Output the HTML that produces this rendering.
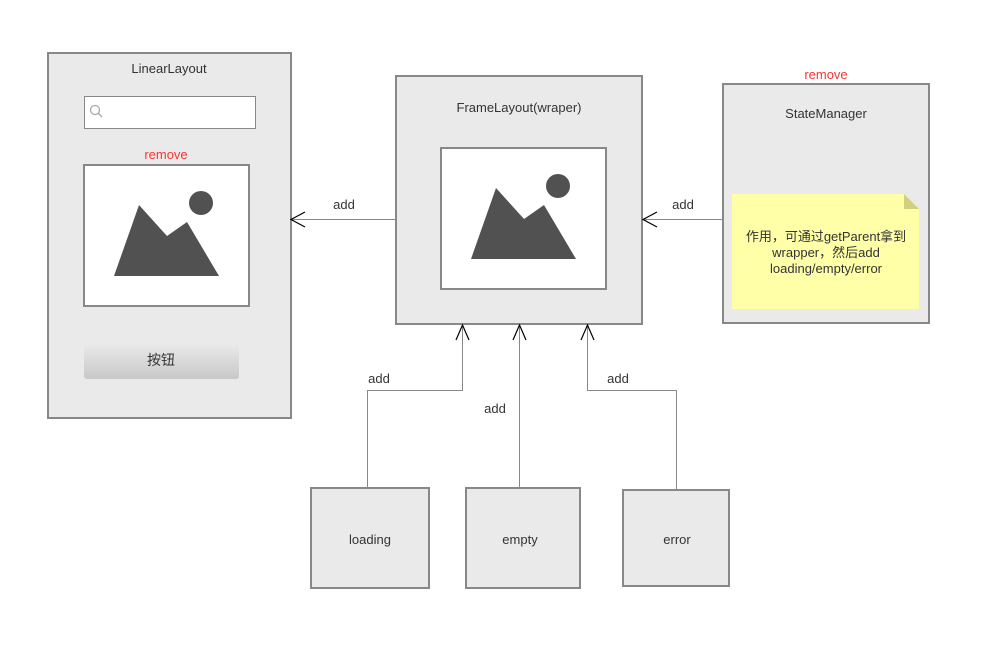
<!DOCTYPE html>
<html><head><meta charset="utf-8"><style>body{margin:0;background:#fff}svg{display:block}text{font-family:"Liberation Sans","Noto Sans CJK SC",sans-serif;font-size:13px;fill:#333}</style></head><body>
<svg width="991" height="651" viewBox="0 0 991 651">
<defs><linearGradient id="g" x1="0" y1="0" x2="0" y2="1"><stop offset="0" stop-color="#ececec"/><stop offset="1" stop-color="#c8c8c8"/></linearGradient></defs>
<g stroke="#888" stroke-width="2" fill="#eaeaea">
<rect x="48" y="53" width="243" height="365"/>
<rect x="396" y="76" width="246" height="248"/>
<rect x="723" y="84" width="206" height="239"/>
<rect x="311" y="488" width="118" height="100"/>
<rect x="466" y="488" width="114" height="100"/>
<rect x="623" y="490" width="106" height="96"/>
</g>
<rect x="84.5" y="96.5" width="171" height="32" fill="#fff" stroke="#888"/>
<circle cx="95" cy="110" r="4.5" fill="none" stroke="#aaa" stroke-width="1.3"/><line x1="98" y1="113" x2="102" y2="117" stroke="#aaa" stroke-width="1.5"/>
<rect x="84" y="165" width="165" height="141" fill="#fff" stroke="#888" stroke-width="2"/>
<polygon points="114,276 139,205 167,236 187,222 219,276" fill="#515151"/><circle cx="201" cy="203" r="12" fill="#515151"/>
<rect x="84" y="341" width="155" height="38" rx="3" fill="url(#g)"/>
<rect x="441" y="148" width="165" height="141" fill="#fff" stroke="#888" stroke-width="2"/>
<polygon points="471,259 496,188 524,219 544,205 576,259" fill="#515151"/><circle cx="558" cy="186" r="12" fill="#515151"/>
<polygon points="732,194 904,194 919,209 919,309 732,309" fill="#ffffa8"/>
<polygon points="904,194 919,209 904,209" fill="#d2cf80"/>
<g stroke="#888" fill="none">
<line x1="396" y1="219.5" x2="291" y2="219.5"/>
<line x1="723" y1="219.5" x2="643" y2="219.5"/>
<polyline points="367.5,488 367.5,390.5 462.5,390.5 462.5,325"/>
<line x1="519.5" y1="487" x2="519.5" y2="325"/>
<polyline points="676.5,489 676.5,390.5 587.5,390.5 587.5,325"/>
</g>
<g stroke="#000" fill="none" stroke-width="1.2">
<polyline points="305,212 291,219.5 305,227"/>
<polyline points="657,212 643,219.5 657,227"/>
<polyline points="456,340 462.5,325 469,340"/>
<polyline points="513,340 519.5,325 526,340"/>
<polyline points="581,340 587.5,325 594,340"/>
</g>
<g text-anchor="middle">
<text x="169" y="73">LinearLayout</text>
<text x="166" y="159" style="fill:#f33">remove</text>
<text x="161" y="365" style="font-size:14px">按钮</text>
<text x="519" y="112">FrameLayout(wraper)</text>
<text x="826" y="118">StateManager</text>
<text x="826" y="79" style="fill:#f33">remove</text>
<text x="826" y="241">作用，可通过getParent拿到</text>
<text x="826" y="257">wrapper，然后add</text>
<text x="826" y="273">loading/empty/error</text>
<text x="344" y="209">add</text>
<text x="683" y="209">add</text>
<text x="379" y="383">add</text>
<text x="495" y="413">add</text>
<text x="618" y="383">add</text>
<text x="370" y="544">loading</text>
<text x="520" y="544">empty</text>
<text x="677" y="544">error</text>
</g>
</svg>
</body></html>
